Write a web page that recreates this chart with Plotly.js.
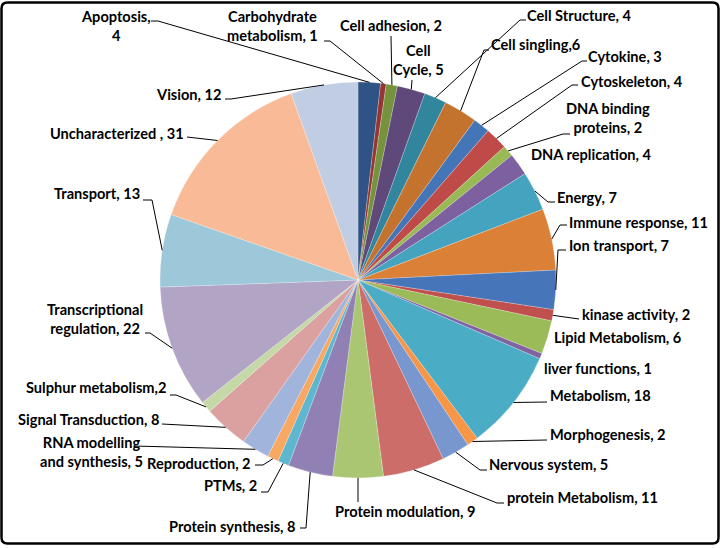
<!DOCTYPE html>
<html>
<head>
<meta charset="utf-8">
<script src="https://cdn.plot.ly/plotly-3.0.1.min.js"></script>
<style>html,body{margin:0;padding:0;background:#fff;}#chart{width:723px;height:548px;}</style>
</head>
<body>
<div id="chart"></div>
<script>
// ---- DATA ----
const categories = ["Apoptosis","Carbohydrate metabolism","Cell adhesion","Cell Cycle","Cell Structure","Cell singling","Cytokine","Cytoskeleton","DNA binding proteins","DNA replication","Energy","Immune response","Ion transport","kinase activity","Lipid Metabolism","liver functions","Metabolism","Morphogenesis","Nervous system","protein Metabolism","Protein modulation","Protein synthesis","PTMs","Reproduction","RNA modelling and synthesis","Signal Transduction","Sulphur metabolism","Transcriptional regulation","Transport","Uncharacterized","Vision"];
const values = [4,1,2,5,4,6,3,4,2,4,7,11,7,2,6,1,18,2,5,11,9,8,2,2,5,8,2,22,13,31,12];
const displayNames = ["Apoptosis","Carbohydrate<br>metabolism","Cell adhesion","Cell<br>Cycle","Cell Structure","Cell singling","Cytokine","Cytoskeleton","DNA binding<br>proteins","DNA replication","Energy","Immune response","Ion transport","kinase activity","Lipid Metabolism","liver functions","Metabolism","Morphogenesis","Nervous system","protein Metabolism","Protein modulation","Protein synthesis","PTMs","Reproduction","RNA modelling<br>and synthesis","Signal Transduction","Sulphur metabolism","Transcriptional<br>regulation","Transport","Uncharacterized ","Vision"];
const separatorOverrides = {"Apoptosis": ",<br>", "Cell singling": ",", "Sulphur metabolism": ","};
const colors = ["#2E5384","#943634","#76923C","#5F497A","#31859C","#C4732F","#4475B6","#BE4B48","#98B954","#7D60A0","#44A3BE","#DA8137","#4675BA","#C0504D","#9BBB59","#8064A2","#4BACC6","#F79646","#7897CE","#CD6D6A","#AAC672","#9080B3","#5FB7CF","#F9A862","#A1B5DC","#DBA1A0","#C5D9A8","#B1A4C4","#9DC8D9","#F9BB97","#C1CDE3"];

// ---- LAYOUT (pixel positions) ----
const W = 723, H = 548;
const CX = 358, CY = 280, R = 198;
const px = x => x / W, py = y => 1 - y / H;

// label anchor: [x, y, xanchor]
const labelPos = [
 [116,26,"center"],[272,26,"center"],[338,25,"left"],[418,60,"center"],[525,16,"left"],
 [489,44,"left"],[586,57,"left"],[579,81,"left"],[608,118,"center"],[529,154,"left"],
 [555,197,"left"],[567,222,"left"],[567,245,"left"],[580,314,"left"],[552,337,"left"],
 [542,368,"left"],[548,395,"left"],[548,434,"left"],[487,464,"left"],[505,498,"left"],
 [333,511,"left"],[298,526,"right"],[259,485,"right"],[253,463,"right"],[91,452,"center"],
 [161,419,"right"],[168,387,"right"],[95,319,"center"],[142,193,"right"],[186,133,"right"],[223,94,"right"]
];
// leader line points after slice edge (null = no leader)
const leaders = [
 [[158,21],[151,21]], [[330,41],[324,41]], [[391,36]], [[412,80]], [[520,20],[526,20]],
 [[484,50],[489,50]], [[582,61],[587,61]], [[572,85],[578,85]], [[563,134],[570,134]], null,
 [[548,202],[555,202]], [[560,225],[567,225]], [[558,250],[566,250]], [[579,319]], null,
 null, [[547,402]], [[547,440]], [[480,470],[487,470]], [[497,503],[504,503]],
 [[358,502]], [[306,528],[300,528]], [[268,492],[261,492]], [[263,465],[255,465]], [[134,446]],
 [[162,424]], [[176,395],[170,395]], [[150,333],[145,333]], [[152,200],[143,200]], [[187,137]], [[231,99],[225,99]]
];

const total = values.reduce((a,b)=>a+b,0);
let cum = 0;
const shapes = [];
const annotations = [];
values.forEach((v,i)=>{
  const th = (cum + v/2)/total*2*Math.PI;
  cum += v;
  const sx = CX + R*Math.sin(th), sy = CY - R*Math.cos(th);
  if (leaders[i]) {
    let p = `M ${px(sx)} ${py(sy)}`;
    leaders[i].forEach(q => { p += ` L ${px(q[0])} ${py(q[1])}`; });
    shapes.push({type:'path', xref:'paper', yref:'paper', path:p, line:{color:'#000', width:1}});
  }
  const lp = labelPos[i];
  const sep = separatorOverrides[categories[i]] !== undefined ? separatorOverrides[categories[i]] : ", ";
  annotations.push({
    xref:'paper', yref:'paper', x:px(lp[0]), y:py(lp[1]), xanchor:lp[2], yanchor:'middle',
    align:'center', showarrow:false,
    text: displayNames[i] + sep + values[i],
    font:{family:'Lato, "Open Sans", sans-serif', size:14.6, color:'#000', weight:'bold'}
  });
});

// chart border with rounded corners
const bx0=px(1.5), bx1=px(718.5), by0=py(543.5), by1=py(2.5), rx=px(6), ry=6/H;
shapes.push({type:'path', xref:'paper', yref:'paper', line:{color:'#000', width:2.5},
  path:`M ${bx0+rx} ${by1} L ${bx1-rx} ${by1} Q ${bx1} ${by1} ${bx1} ${by1-ry} L ${bx1} ${by0+ry} Q ${bx1} ${by0} ${bx1-rx} ${by0} L ${bx0+rx} ${by0} Q ${bx0} ${by0} ${bx0} ${by0+ry} L ${bx0} ${by1-ry} Q ${bx0} ${by1} ${bx0+rx} ${by1} Z`});

const trace = {
  type:'pie', values:values, labels:categories, sort:false, direction:'clockwise', rotation:0,
  textinfo:'none', hoverinfo:'label+value', showlegend:false,
  marker:{colors:colors, line:{color:'rgba(255,255,255,0.45)', width:0.5}},
  domain:{x:[px(CX-R), px(CX+R)], y:[py(CY+R), py(CY-R)]}
};
const layout = {
  width:W, height:H, margin:{l:0,r:0,t:0,b:0}, paper_bgcolor:'#fff',
  showlegend:false, shapes:shapes, annotations:annotations
};
Plotly.newPlot('chart',[trace],layout,{displayModeBar:false, staticPlot:true});
</script>
</body>
</html>
